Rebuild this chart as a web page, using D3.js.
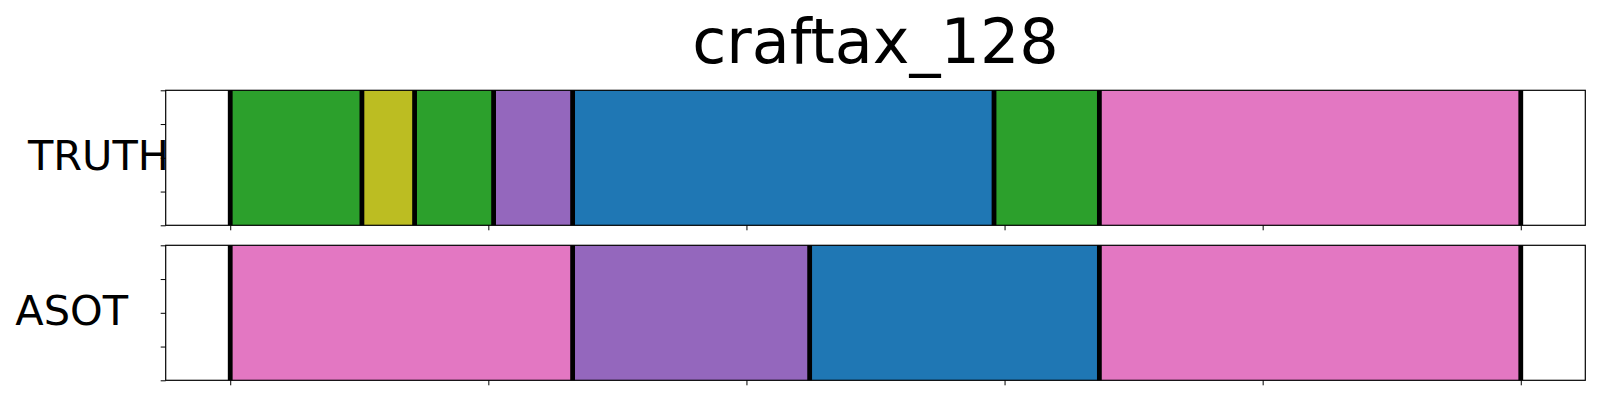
<!DOCTYPE html>
<html>
<head>
<meta charset="utf-8">
<script src="https://cdn.jsdelivr.net/npm/d3@7"></script>
<style>
  html, body { margin: 0; padding: 0; background: #fff; }
  svg { display: block; }
  text { font-family: "DejaVu Sans", sans-serif; }
</style>
</head>
<body>
<svg id="chart" width="1600" height="400"></svg>
<script>
// ---- data ----
const title = "craftax_128";
const totalFrames = 49;
const rowNames = ["TRUTH", "ASOT"];
const truthBounds = [0, 5, 7, 10, 13, 29, 33, 49];
const truthClasses = [2, 8, 2, 4, 0, 2, 6];
const asotBounds = [0, 13, 22, 33, 49];
const asotClasses = [6, 4, 0, 6];
const xTicks = [0, 0.2, 0.4, 0.6, 0.8, 1.0];
const yTicks = [0, 0.25, 0.5, 0.75, 1.0];
const palette = ["#1f77b4", "#ff7f0e", "#2ca02c", "#d62728", "#9467bd",
                 "#8c564b", "#e377c2", "#7f7f7f", "#bcbd22", "#17becf"];

// ---- layout ----
const svg = d3.select("#chart");
const left = 165.7, right = 1585.3;
const panels = [
  { name: rowNames[0], bounds: truthBounds, classes: truthClasses, top: 90.3, bottom: 225.3, labelX: 169, labelY: 169.5 },
  { name: rowNames[1], bounds: asotBounds, classes: asotClasses, top: 245.3, bottom: 380.3, labelX: 128, labelY: 324.5 }
];

const x = d3.scaleLinear().domain([-0.05, 1.05]).range([left, right]);

svg.append("text")
  .attr("x", (left + right) / 2)
  .attr("y", 63)
  .attr("text-anchor", "middle")
  .attr("font-size", 62)
  .attr("fill", "#000")
  .text(title);

panels.forEach(p => {
  const y = d3.scaleLinear().domain([0, 1]).range([p.bottom, p.top]);
  const g = svg.append("g");
  const segs = p.classes.map((c, i) => ({
    s: p.bounds[i] / totalFrames, e: p.bounds[i + 1] / totalFrames, c
  }));
  g.selectAll("rect.seg").data(segs).enter().append("rect")
    .attr("class", "seg")
    .attr("x", d => x(d.s))
    .attr("width", d => x(d.e) - x(d.s))
    .attr("y", y(1))
    .attr("height", y(0) - y(1))
    .attr("fill", d => palette[d.c]);
  g.selectAll("line.bd").data(p.bounds.map(b => b / totalFrames)).enter().append("line")
    .attr("class", "bd")
    .attr("x1", d => x(d)).attr("x2", d => x(d))
    .attr("y1", y(1)).attr("y2", y(0))
    .attr("stroke", "#000").attr("stroke-width", 4.8);

  // axes
  const xa = g.append("g").attr("transform", `translate(0,${p.bottom})`)
    .call(d3.axisBottom(x).tickValues(xTicks).tickFormat("").tickSize(5).tickSizeOuter(0));
  xa.select(".domain").remove();
  xa.selectAll("line").attr("stroke", "#000").attr("stroke-width", 1);
  const ya = g.append("g").attr("transform", `translate(${left},0)`)
    .call(d3.axisLeft(y).tickValues(yTicks).tickFormat("").tickSize(5).tickSizeOuter(0));
  ya.select(".domain").remove();
  ya.selectAll("line").attr("stroke", "#000").attr("stroke-width", 1);

  // frame
  g.append("rect")
    .attr("x", left).attr("y", p.top)
    .attr("width", right - left).attr("height", p.bottom - p.top)
    .attr("fill", "none").attr("stroke", "#000").attr("stroke-width", 1.2);

  svg.append("text")
    .attr("x", p.labelX)
    .attr("y", p.labelY)
    .attr("text-anchor", "end")
    .attr("font-size", 41.5)
    .attr("fill", "#000")
    .text(p.name);
});
</script>
</body>
</html>
